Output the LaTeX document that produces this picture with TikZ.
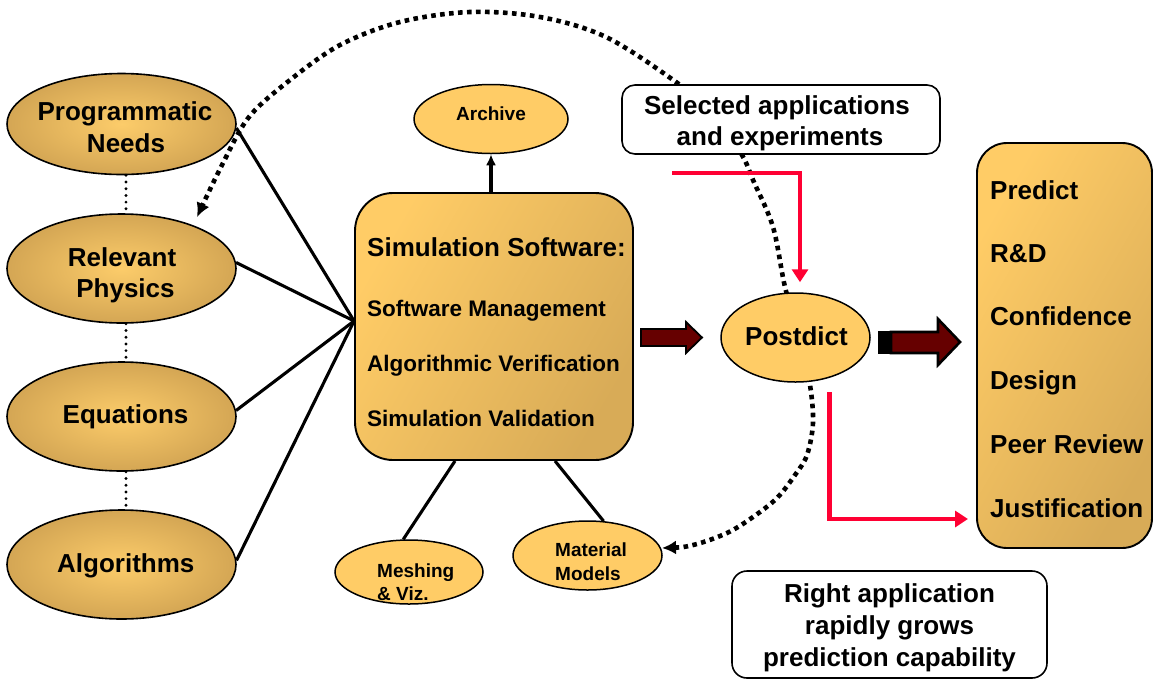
\documentclass[tikz,border=0pt]{standalone}
\usepackage{fontspec}
\setmainfont{Liberation Sans}
\usetikzlibrary{arrows.meta,shapes.geometric,backgrounds}

\definecolor{goldlight}{HTML}{FFCC66}
\definecolor{goldmid}{HTML}{FCCC6A}
\definecolor{goldrim}{HTML}{D4A654}
\definecolor{golddark}{HTML}{D8AB57}
\definecolor{arrowmaroon}{HTML}{660000}
\definecolor{flowred}{HTML}{FF0033}

\tikzset{
  bigoval/.style={ellipse, draw=black, line width=1.6pt, minimum width=229pt,
    minimum height=109pt, inner sep=0pt, inner color=goldmid, outer color=goldrim},
  smalloval/.style={ellipse, draw=black, line width=1.5pt, fill=goldlight, inner sep=0pt},
  goldbox/.style={rectangle, draw=black, line width=1.9pt, top color=goldlight,
    bottom color=golddark, shading angle=60, inner sep=0pt},
  notebox/.style={rectangle, draw=black, line width=1.6pt, fill=white,
    rounded corners=13pt, inner sep=0pt},
  txtbig/.style={font=\fontsize{26}{31}\selectfont\bfseries, inner sep=0pt},
  txtmid/.style={font=\fontsize{22.5}{27}\selectfont\bfseries, inner sep=0pt},
  txtsmall/.style={font=\fontsize{19}{23}\selectfont\bfseries, inner sep=0pt},
  spoke/.style={line width=3.1pt},
  dotlink/.style={line width=3.2pt, line cap=round, dash pattern=on 0pt off 6.7pt},
  cycleline/.style={line width=4.6pt, dash pattern=on 4.6pt off 4.4pt,
    {Latex[length=14pt,width=14pt]}-{Latex[length=14pt,width=14pt]}},
  redflow/.style={draw=flowred, line width=4.3pt, -{Triangle[length=13pt,width=16pt]}},
  blockarrow/.style={fill=arrowmaroon, draw=black, line width=1.8pt, line join=miter},
}

\begin{document}
\begin{tikzpicture}[x=1pt,y=-1pt]
\useasboundingbox (0,0) rectangle (1154,681);

% left column of shaded ovals
\node[bigoval, minimum height=101pt] (pn) at (121.5,124) {};
\node[bigoval] (rp) at (121.5,268.5) {};
\node[bigoval] (eq) at (121.5,416.5) {};
\node[bigoval] (al) at (121.5,564.5) {};
\node[txtbig, anchor=base] (pn1) at (125,120) {Programmatic};
\node[txtbig, anchor=base] (pn2) at (126,152) {Needs};
\node[txtbig, anchor=base] (rp1) at (122,266) {Relevant};
\node[txtbig, anchor=base] (rp2) at (125.5,297) {Physics};
\node[txtbig, anchor=base] (eq1) at (125.5,423) {Equations};
\node[txtbig, anchor=base] (al1) at (125.8,572) {Algorithms};

% central software box
\node[goldbox, rounded corners=38pt, minimum width=278pt, minimum height=267pt] (sim) at (494,326.5) {};
\node[txtbig, anchor=base west] (s0) at (367,256) {Simulation Software:};
\node[txtmid, anchor=base west] (s1) at (367,316) {Software Management};
\node[txtmid, anchor=base west] (s2) at (367,371) {Algorithmic Verification};
\node[txtmid, anchor=base west] (s3) at (367,426) {Simulation Validation};

% satellite ovals
\node[smalloval, minimum width=154pt, minimum height=69pt] (arch) at (491,119) {};
\node[txtsmall, anchor=base] (arch1) at (491,120) {Archive};
\node[smalloval, minimum width=148pt, minimum height=64pt] (mesh) at (409,572) {};
\node[txtsmall, anchor=base west] (mesh1) at (377,577) {Meshing};
\node[txtsmall, anchor=base west] (mesh2) at (377,600) {\& Viz.};
\node[smalloval, minimum width=149pt, minimum height=69pt] (mat) at (587.5,555.5) {};
\node[txtsmall, anchor=base west] (mat1) at (555,556) {Material};
\node[txtsmall, anchor=base west] (mat2) at (555,580) {Models};
\node[smalloval, minimum width=149pt, minimum height=89pt] (post) at (795.5,337.5) {};
\node[txtbig, anchor=base] (post1) at (796.5,345) {Postdict};

% note boxes
\node[notebox, minimum width=318pt, minimum height=69pt] (sel) at (781,119.5) {};
\node[txtbig, anchor=base] (sel1) at (777,114) {Selected applications};
\node[txtbig, anchor=base] (sel2) at (780,145) {and experiments};
\node[notebox, rounded corners=15pt, minimum width=315pt, minimum height=107pt] (rapp) at (889.5,624.5) {};
\node[txtbig, anchor=base] (rapp1) at (889.5,602) {Right application};
\node[txtbig, anchor=base] (rapp2) at (889.5,634) {rapidly grows};
\node[txtbig, anchor=base] (rapp3) at (889.5,666) {prediction capability};

% outcome list
\node[goldbox, rounded corners=30pt, minimum width=175pt, minimum height=405pt] (res) at (1064.5,345.5) {};
\node[txtbig, anchor=base west] (r1) at (990,199) {Predict};
\node[txtbig, anchor=base west] (r2) at (990,262) {R\&D};
\node[txtbig, anchor=base west] (r3) at (990,325) {Confidence};
\node[txtbig, anchor=base west] (r4) at (990,389) {Design};
\node[txtbig, anchor=base west] (r5) at (990,453) {Peer Review};
\node[txtbig, anchor=base west] (r6) at (990,517) {Justification};

% spokes into the software box
\coordinate (hub) at ([yshift=5.5pt]sim.west);
\draw[spoke] (pn.-2) -- (hub);
\draw[spoke] (rp.3) -- (hub);
\draw[spoke] (eq.3) -- (hub);
\draw[spoke] (al.2) -- (hub);

% dotted links down the left column
\draw[dotlink] ([xshift=4.5pt]pn.south) -- ([xshift=4.5pt]rp.north);
\draw[dotlink] ([xshift=4.5pt]rp.south) -- ([xshift=4.5pt]eq.north);
\draw[dotlink] ([xshift=4.5pt]eq.south) -- ([xshift=4.5pt]al.north);

% software box to its satellites
\draw[spoke, -{Latex[length=11pt,width=10pt]}] (sim.north -| arch.south) -- (arch.south);
\draw[spoke] ([xshift=-39pt]sim.south) -- (mesh.100);
\draw[spoke] ([xshift=61pt]sim.south) -- (mat.65);

% block arrows
\draw[blockarrow] (641,329) -- (686,329) -- (686,322) -- (702,337.5) -- (686,353) -- (686,346) -- (641,346) -- cycle;
\fill[black] (878,331) rectangle (892,354);
\draw[blockarrow, line width=2.6pt] (891,332) -- (938,332) -- (938,319) -- (960,342) -- (938,365) -- (938,353) -- (891,353) -- cycle;

% red flow connectors
\coordinate (fa) at (672,173);
\draw[redflow] (fa) -| ([xshift=4.5pt,yshift=10pt]post.north);
\coordinate (fb) at (829.5,392);
\coordinate (fbend) at (968,519);
\draw[redflow] (fb) |- (fbend);

% large dotted feedback loop, behind the boxes
\begin{scope}[on background layer]
\fill[white] (0,0) rectangle (1154,681);
\draw[cycleline] plot[smooth, tension=0.55] coordinates {
  (662,548) (693,545) (727,533) (753,517) (777,498) (795,475) (807,455)
  (813,423) (810,385) (800,340) (785,287) (773,227) (753,180) (742,155)
  (715,115) (676,82) (606,37) (540,17) (470,12) (400,22) (340,45) (290,80)
  (249,117) (222,165) (197,217)};
\end{scope}
\end{tikzpicture}
\end{document}
